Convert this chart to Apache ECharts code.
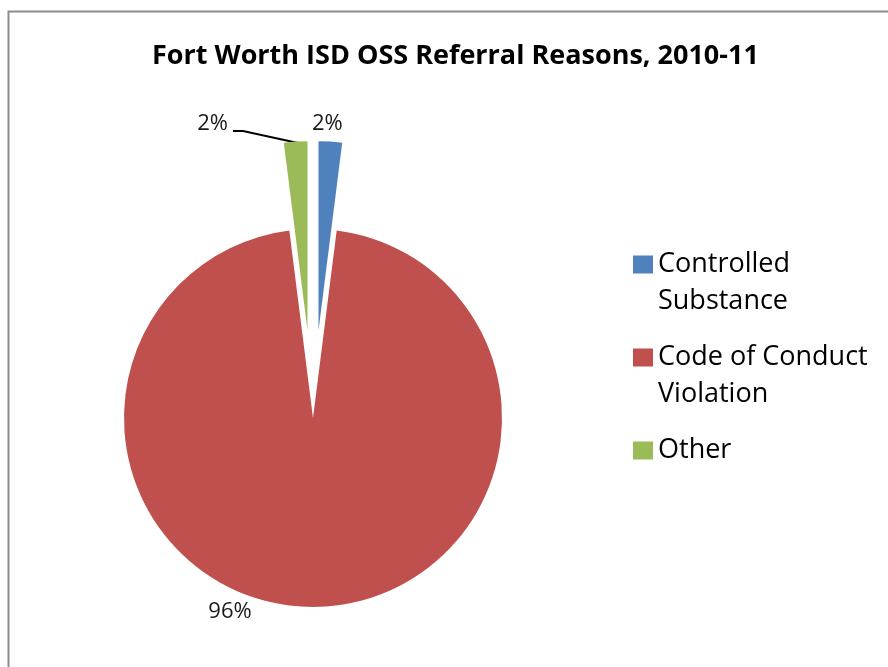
<!DOCTYPE html>
<html>
<head>
<meta charset="utf-8">
<script src="https://cdn.jsdelivr.net/npm/echarts@6/dist/echarts.min.js"></script>
<style>
html,body{margin:0;padding:0;background:#fff;}
#chart{width:888px;height:667px;}
</style>
</head>
<body>
<div id="chart"></div>
<script>
// ---- data ----
const titleText = 'Fort Worth ISD OSS Referral Reasons, 2010-11';
const categories = ['Controlled Substance', 'Code of Conduct Violation', 'Other'];
const values = [2, 96, 2];
const legendLines = [['Controlled', 'Substance'], ['Code of Conduct', 'Violation'], ['Other']];
const colors = ['#4F81BD', '#C0504D', '#9BBB59'];
const exploded = [true, false, true];

const FONT = 'Open Sans';
const CX = 313, CY = 418, R = 189, EXPLODE = 88;

const chart = echarts.init(document.getElementById('chart'), null, {renderer: 'canvas'});
const total = values.reduce((a, b) => a + b, 0);

// geometry helpers (angle measured clockwise from 12 o'clock, like startAngle 90)
function midAngle(i) {
  const before = values.slice(0, i).reduce((a, b) => a + b, 0);
  return (before + values[i] / 2) / total * 2 * Math.PI;
}
function explodeOffset(i) {
  if (!exploded[i]) return [0, 0];
  const t = midAngle(i);
  return [EXPLODE * Math.sin(t), -EXPLODE * Math.cos(t)];
}
// wanted label anchors (page coords): blue = left edge, green = right edge
const labelAnchor = {0: [312, 124], 2: [228, 124]};
function outsideLine(i) {
  const t = midAngle(i), s = Math.sin(t), c = Math.cos(t);
  const o = explodeOffset(i);
  const ax = labelAnchor[i][0] - o[0], ay = labelAnchor[i][1] - o[1];
  const len = (CY - ay) / c - R;
  const x1 = CX + (R + len) * s;
  const sign = s < 0 ? -1 : 1;
  const x2 = ax - sign * 5;
  return {length: len, length2: sign * (x2 - x1)};
}

const option = {
  animation: false,
  backgroundColor: '#fff',
  textStyle: {fontFamily: FONT},
  graphic: [{
    type: 'rect', silent: true, z: -10,
    shape: {x: 8.5, y: 11.5, width: 1000, height: 1000},
    style: {fill: 'none', stroke: '#8c8c8c', lineWidth: 2}
  }],
  title: {
    text: titleText,
    left: 147, top: 38,
    textStyle: {fontFamily: FONT, fontWeight: 'bold', fontSize: 27, color: '#000'}
  },
  legend: {
    orient: 'vertical',
    left: 628, top: 204,
    itemWidth: 20, itemHeight: 18,
    itemGap: -18,
    icon: 'rect',
    selectedMode: false,
    data: categories,
    formatter: function (name) {
      const lines = legendLines[categories.indexOf(name)];
      if (lines.length === 1) return ' \n' + lines[0] + '\n ';
      return ' \n' + lines.join('\n');
    },
    textStyle: {fontFamily: FONT, fontSize: 27, lineHeight: 37, color: '#000'}
  },
  series: [{
    type: 'pie',
    center: [CX, CY],
    radius: [0, R],
    startAngle: 90,
    clockwise: true,
    selectedMode: 'multiple',
    selectedOffset: EXPLODE,
    avoidLabelOverlap: false,
    emphasis: {disabled: true},
    data: categories.map((c, i) => {
      const item = {
        name: c,
        value: values[i],
        selected: exploded[i],
        itemStyle: {color: colors[i]}
      };
      if (labelAnchor[i]) {
        const l = outsideLine(i);
        item.labelLine = {show: i === 2, length: l.length, length2: l.length2};
      } else {
        item.labelLine = {show: false};
      }
      return item;
    }),
    label: {
      show: true,
      position: 'outside',
      distanceToLabelLine: 5,
      formatter: p => Math.round(p.value / total * 100) + '%',
      fontFamily: FONT, fontSize: 22, color: '#1a1a1a'
    },
    labelLine: {show: true, lineStyle: {color: '#000', width: 2}},
    labelLayout: function (p) {
      const i = p.dataIndex;
      if (i === 1) {
        // red slice label sits below-left of the pie
        return {x: CX - 83, y: CY + R + 5, align: 'center', verticalAlign: 'middle'};
      }
      if (i === 2) {
        const o = explodeOffset(i);
        const pts = [[298, 143], [243, 131], [233, 131]];
        return {labelLinePoints: pts.map(q => [q[0] - o[0], q[1] - o[1]])};
      }
      return {};
    }
  }]
};
chart.setOption(option);
</script>
</body>
</html>
